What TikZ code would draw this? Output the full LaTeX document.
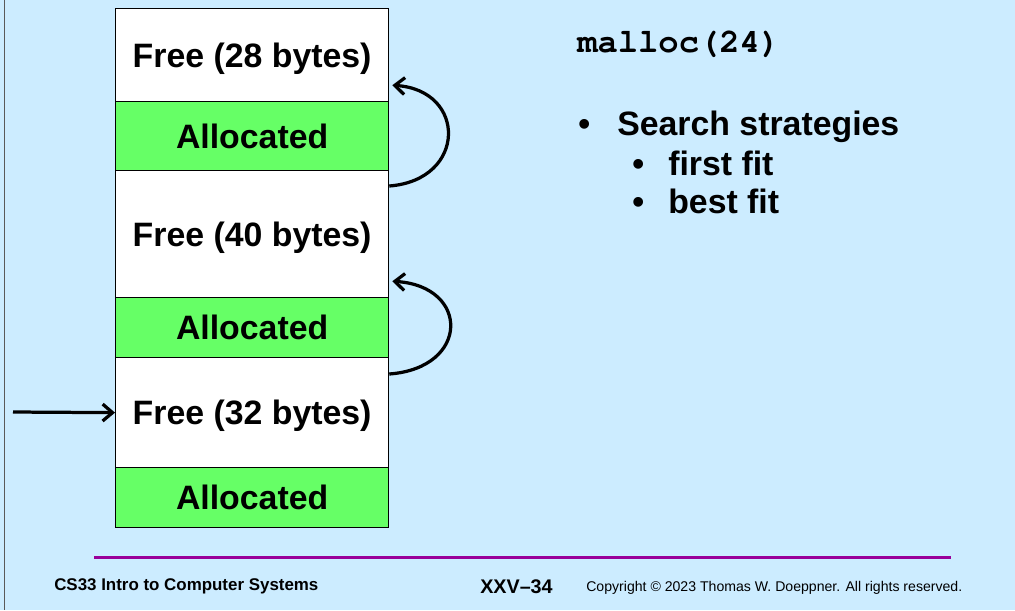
\documentclass[tikz,border=0pt]{standalone}
\usepackage{fontspec}
\setmainfont{Liberation Sans}
\setmonofont{TeX Gyre Cursor}
\usetikzlibrary{arrows.meta,calc}
\definecolor{bg}{HTML}{CCECFF}
\definecolor{alloc}{HTML}{66FF66}
\definecolor{rulecol}{HTML}{990099}
\begin{document}
\begin{tikzpicture}[x=0.7094pt,y=-0.7094pt,
  blk/.style={draw=black,line width=0.9pt,minimum width=193.67pt,inner sep=0pt,anchor=north west,
    font=\fontsize{24}{28}\selectfont\bfseries,text height=17.2pt,text depth=0pt},
  freeblk/.style={blk,fill=white},
  allocblk/.style={blk,fill=alloc},
  link/.style={line width=2.3pt,-{Straight Barb[length=7pt,width=12pt,line width=2.3pt]}},
  txt/.style={anchor=base west,inner sep=0pt},
  big/.style={txt,font=\fontsize{24}{28}\selectfont\bfseries}]
\useasboundingbox (0,0) rectangle (1015,610);
\fill[bg] (0,0) rectangle (1015,610);
\draw[gray!70!black,line width=0.7pt] (4,0) -- (4,610);

\node[freeblk,minimum height=93*0.7094pt] (f28) at (115,8) {Free (28 bytes)};
\node[allocblk,minimum height=69*0.7094pt] (a1) at (115,101) {Allocated};
\node[freeblk,minimum height=127*0.7094pt] (f40) at (115,170) {Free (40 bytes)};
\node[allocblk,minimum height=60*0.7094pt] (a2) at (115,297) {Allocated};
\node[freeblk,minimum height=110*0.7094pt] (f32) at (115,357) {Free (32 bytes)};
\node[allocblk,minimum height=60*0.7094pt] (a3) at (115,467) {Allocated};

\draw[link] ($(f40.north east)+(0,16)$) .. controls (467,180) and (467,90) .. ($(f28.south east)+(3,-17)$);
\draw[link] ($(f32.north east)+(0,17)$) .. controls (470,368) and (470,286) .. ($(f40.south east)+(3,-17)$);
\coordinate (src) at (13,412);
\draw[link] (src) -- (f32.west);

\node[txt,font=\ttfamily\bfseries\fontsize{24}{28}\selectfont] (call) at (577,52) {malloc(24)};
\node[big] (b0) at (578,135) {•};
\node[big] (t0) at (617,135) {Search strategies};
\node[big] (b1) at (632,175) {•};
\node[big] (t1) at (668,175) {first fit};
\node[big] (b2) at (632,213) {•};
\node[big] (t2) at (668,213) {best fit};

\draw[rulecol,line width=2.2pt] (94,557.7) -- (951,557.7);
\node[txt,font=\fontsize{12}{14}\selectfont\bfseries] (course) at (54,590) {CS33 Intro to Computer Systems};
\node[txt,font=\fontsize{14}{16}\selectfont\bfseries] (page) at (480,593) {XXV–34};
\node[txt,font=\fontsize{10}{12}\selectfont] (copy) at (586,591) {Copyright © 2023 Thomas W. Doeppner. All rights reserved.};
\end{tikzpicture}
\end{document}
